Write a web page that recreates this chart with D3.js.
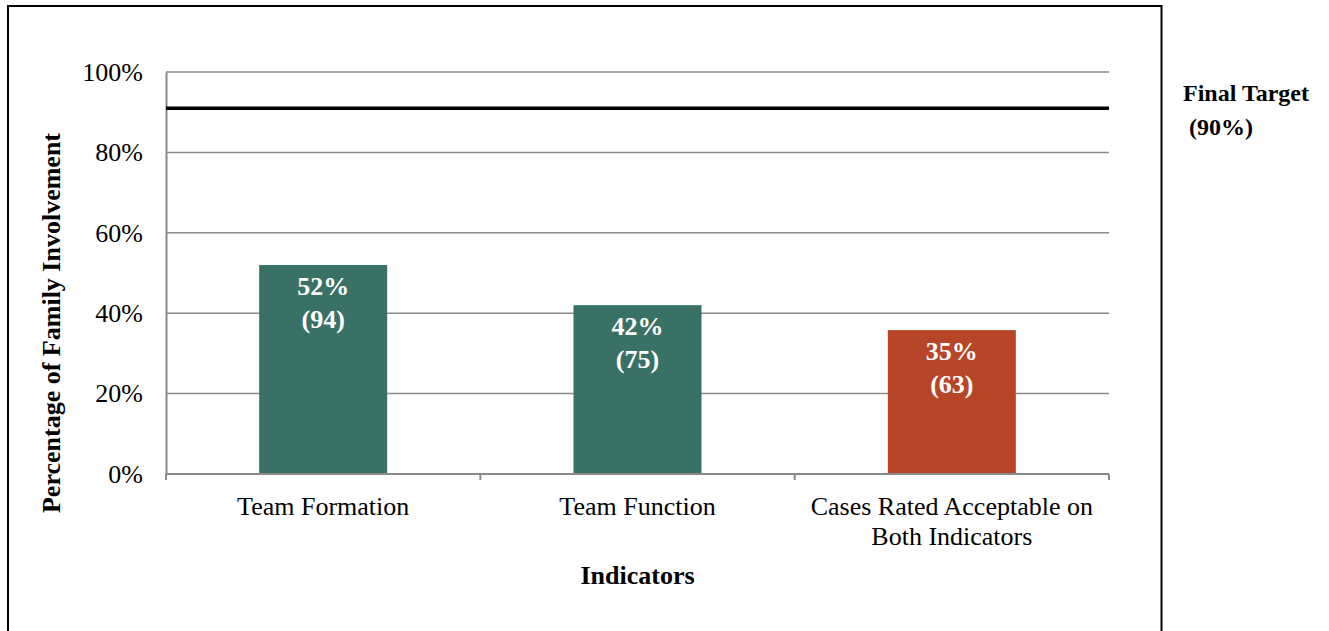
<!DOCTYPE html>
<html>
<head>
<meta charset="utf-8">
<script src="https://cdn.jsdelivr.net/npm/d3@7"></script>
<style>
  html, body { margin: 0; padding: 0; background: #fff; }
  svg { display: block; font-family: "Liberation Serif", "Times New Roman", serif; }
</style>
</head>
<body>
<svg id="chart" width="1329" height="631"></svg>
<script>
// ---- data ----
const categories = ["Team Formation", "Team Function", "Cases Rated Acceptable on\nBoth Indicators"];
const values = [52, 42, 35.8];
const pctLabels = ["52%", "42%", "35%"];
const countLabels = ["(94)", "(75)", "(63)"];
const barColors = ["#3a7167", "#3a7167", "#b74527"];
const yTicks = [0, 20, 40, 60, 80, 100];
const targetValue = 91;
const targetLabel = ["Final Target", " (90%)"];

(function () {
const svg = d3.select("#chart");
const FF = "Liberation Serif, Times New Roman, serif";

// outer frame
svg.append("rect")
  .attr("x", 8).attr("y", 6).attr("width", 1153.5).attr("height", 700)
  .attr("fill", "none").attr("stroke", "#000").attr("stroke-width", 2);

const pl = 166, pr = 1109, pt = 72, pb = 474;

const x = d3.scaleBand().domain(d3.range(categories.length)).range([pl, pr]).paddingInner(0).paddingOuter(0);
const y = d3.scaleLinear().domain([0, 100]).range([pb, pt]);

// gridlines
svg.append("g").selectAll("line").data(yTicks.filter(d => d > 0)).join("line")
  .attr("x1", pl).attr("x2", pr)
  .attr("y1", d => y(d)).attr("y2", d => y(d))
  .attr("stroke", "#8a8a8a").attr("stroke-width", 1.5);

// y axis
const yAxis = d3.axisLeft(y).tickValues(yTicks).tickFormat(d => d + "%").tickSize(0).tickPadding(23);
const gy = svg.append("g").attr("transform", `translate(${pl},0)`).call(yAxis);
gy.select(".domain").attr("stroke", "#8a8a8a").attr("stroke-width", 2);
gy.selectAll("text").attr("font-size", 26).attr("fill", "#000").attr("font-family", FF);

// bars
const barW = 128;
svg.append("g").selectAll("rect").data(values).join("rect")
  .attr("x", (d, i) => x(i) + x.bandwidth() / 2 - barW / 2)
  .attr("width", barW)
  .attr("y", d => y(d))
  .attr("height", d => y(0) - y(d))
  .attr("fill", (d, i) => barColors[i]);

// x axis
const xAxis = d3.axisBottom(x).tickValues([]).tickSize(0);
const gx = svg.append("g").attr("transform", `translate(0,${pb})`).call(xAxis);
gx.select(".domain").remove();
gx.append("line").attr("x1", pl).attr("x2", pr).attr("y1", 0).attr("y2", 0)
  .attr("stroke", "#8a8a8a").attr("stroke-width", 2);
const boundaries = d3.range(categories.length + 1).map(i => i < categories.length ? x(i) : pr);
gx.selectAll(".bt").data(boundaries).join("line").attr("class", "bt")
  .attr("x1", d => d).attr("x2", d => d).attr("y1", 0).attr("y2", 6)
  .attr("stroke", "#8a8a8a").attr("stroke-width", 2);

// category labels
categories.forEach((c, i) => {
  const lines = c.split("\n");
  const t = svg.append("text")
    .attr("x", x(i) + x.bandwidth() / 2)
    .attr("y", 515)
    .attr("text-anchor", "middle")
    .attr("font-size", 26).attr("fill", "#000");
  lines.forEach((l, k) => {
    t.append("tspan").attr("x", x(i) + x.bandwidth() / 2).attr("dy", k === 0 ? 0 : 30).text(l);
  });
});

// target line
svg.append("line").attr("x1", pl).attr("x2", pr)
  .attr("y1", y(targetValue)).attr("y2", y(targetValue))
  .attr("stroke", "#000").attr("stroke-width", 3.5);

// bar value labels
values.forEach((v, i) => {
  const cx = x(i) + x.bandwidth() / 2;
  svg.append("text").attr("x", cx).attr("y", y(v) + 30)
    .attr("text-anchor", "middle").attr("font-size", 26).attr("font-weight", "bold")
    .attr("fill", "#fff").text(pctLabels[i]);
  svg.append("text").attr("x", cx).attr("y", y(v) + 63)
    .attr("text-anchor", "middle").attr("font-size", 26).attr("font-weight", "bold")
    .attr("fill", "#fff").text(countLabels[i]);
});

// axis titles
svg.append("text")
  .attr("transform", `translate(60,${(pt + pb) / 2 + 50}) rotate(-90)`)
  .attr("text-anchor", "middle").attr("font-size", 26).attr("font-weight", "bold")
  .attr("fill", "#000").text("Percentage of Family Involvement");

svg.append("text")
  .attr("x", (pl + pr) / 2).attr("y", 584)
  .attr("text-anchor", "middle").attr("font-size", 26).attr("font-weight", "bold")
  .attr("fill", "#000").text("Indicators");

// target label
const tl = svg.append("text").attr("x", 1183).attr("y", 101)
  .attr("font-size", 24).attr("font-weight", "bold").attr("fill", "#000")
  .attr("xml:space", "preserve");
targetLabel.forEach((l, k) => {
  tl.append("tspan").attr("x", 1183).attr("dy", k === 0 ? 0 : 34).text(l);
});
})();
</script>
</body>
</html>
